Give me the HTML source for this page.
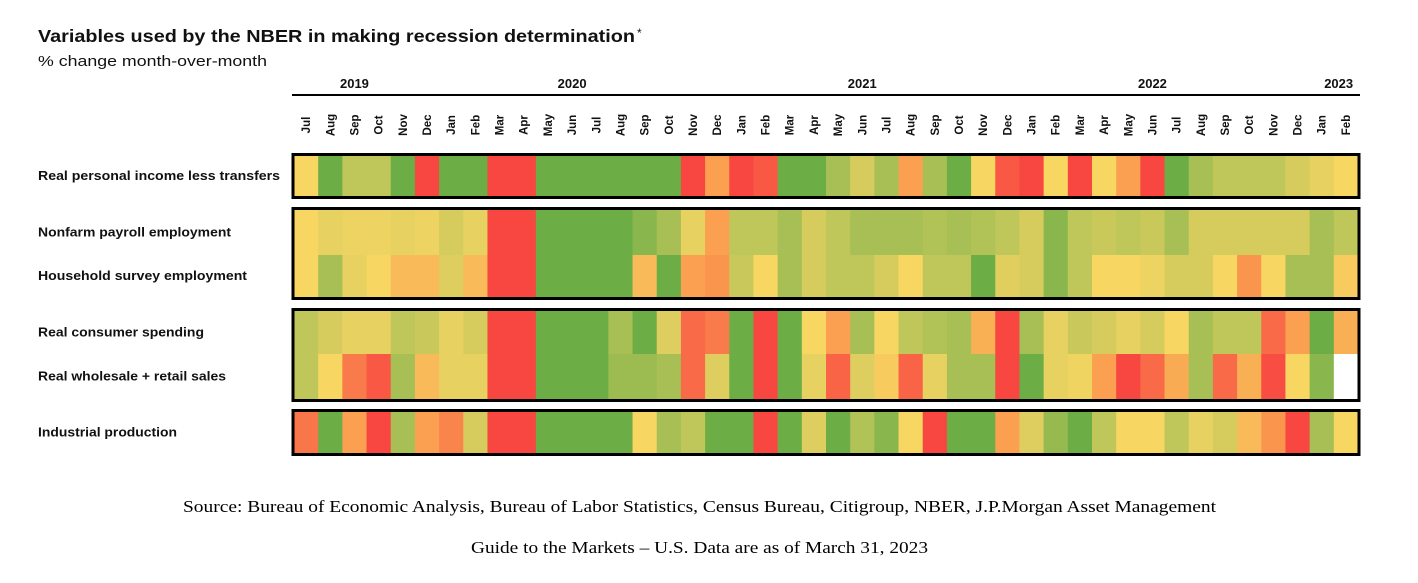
<!DOCTYPE html>
<html><head><meta charset="utf-8"><style>
body{margin:0;background:#fff;width:1418px;height:578px;overflow:hidden}
svg text{font-family:"Liberation Sans",Arial,sans-serif}
</style></head><body>
<svg id="chart" width="1418" height="578" xmlns="http://www.w3.org/2000/svg">
<text x="38" y="42" font-size="17.5" font-weight="bold" fill="#111" textLength="597" lengthAdjust="spacingAndGlyphs">Variables used by the NBER in making recession determination</text>
<text x="637" y="37" font-size="12" fill="#111">*</text>
<text x="38" y="66" font-size="14.5" fill="#111" textLength="229" lengthAdjust="spacingAndGlyphs">% change month-over-month</text>
<line x1="292" y1="95" x2="1360" y2="95" stroke="#000" stroke-width="2"/>
<g id="years"></g><g id="months"></g><g id="cells"></g><g id="frames"></g><g id="rowlabels"></g>
<text x="183" y="512" font-size="17" textLength="1033" lengthAdjust="spacingAndGlyphs" style="font-family:'Liberation Serif',serif">Source: Bureau of Economic Analysis, Bureau of Labor Statistics, Census Bureau, Citigroup, NBER, J.P.Morgan Asset Management</text>
<text x="471" y="553" font-size="17" textLength="457" lengthAdjust="spacingAndGlyphs" style="font-family:'Liberation Serif',serif">Guide to the Markets – U.S. Data are as of March 31, 2023</text>
</svg>
<script>
const months=["Jul","Aug","Sep","Oct","Nov","Dec","Jan","Feb","Mar","Apr","May","Jun","Jul","Aug","Sep","Oct","Nov","Dec","Jan","Feb","Mar","Apr","May","Jun","Jul","Aug","Sep","Oct","Nov","Dec","Jan","Feb","Mar","Apr","May","Jun","Jul","Aug","Sep","Oct","Nov","Dec","Jan","Feb"];
const years=["2019","2020","2021","2022","2023"];
const yearIdx=[2.5,11.5,23.5,35.5,43.2];
const rowNames=["Real personal income less transfers","Nonfarm payroll employment","Household survey employment","Real consumer spending","Real wholesale + retail sales","Industrial production"];
const rowLens=[242,193,209,166,188,139];
// score 0 (red, weak) .. 6 (green, strong); null = no data
const income=[3,6,4.5,4.5,6,0,6,6,0,0,6,6,6,6,6,6,0,2,0,0.5,6,6,5,4,5,2,5,6,3,0.5,0,3,0,3,2,0,6,5,4.5,4.5,4.5,4,3.5,3];
const payroll=[3,3.5,3.3,3.3,3.5,3.3,4,3.5,0,0,6,6,6,6,5.5,5,3.5,2,4.5,4.5,5,4,4.5,5,5,5,4.8,5,4.8,4.5,4,5.5,4.5,4.3,4.5,4.3,5,4,4,4,4,4,5,4.5];
const household=[3,5,3.5,3,2.5,2.5,3.8,2.5,0,0,6,6,6,6,2.5,6,2,1.8,4.3,3,5,4,4.5,4.5,4,3,4.5,4.5,6,3.7,4,5.5,4.5,3,3,3.3,4,4,3,1.8,3,5,5,2.8];
const spending=[4.5,4,3.5,3.5,4.5,4.3,3.5,4,0,0,6,6,6,5,6,3.8,1,1.3,6,0,6,3,2,5,3,4.5,4.8,5,2.3,0,5,3.5,4.3,4,3.5,4,3,5,4.5,4.5,1,2,6,2.3];
const sales=[4.5,3,1.3,0.5,5,2.5,3.5,3.5,0,0,6,6,6,5.2,5.2,5,1,3.8,6,0,6,3.5,0.8,3.8,2.8,0.8,3.5,5,5,0,6,3.5,3.2,2,0,1,2.2,5,1,2.3,0.2,3,5.5,null];
const industrial=[1.2,6,2,0,5,2,1.5,4,0,0,6,6,6,6,3,5,4.5,6,6,0,6,3.8,6,4.8,5.5,3,0,6,6,2,3.8,5.3,6,4.5,3,3,4.5,3.5,4,2.5,1.8,0,5,3];
const series=[income,payroll,household,spending,sales,industrial];
const stops=[[248,70,64],[249,106,72],[250,160,80],[247,214,98],[214,204,94],[168,191,85],[108,174,69]];
function color(v){if(v===null)return"#fff";const i=Math.min(5,Math.floor(v)),t=v-i,a=stops[i],b=stops[i+1];return`rgb(${a.map((c,k)=>Math.round(c+(b[k]-c)*t)).join(",")})`;}
const X0=294,X1=1358,cw=(X1-X0)/months.length;
const xs=i=>X0+i*cw;
const rowY=[[156,196],[210,255],[255,297],[311,354],[354,399],[412,453]];
const groups=[[154.5,197.5],[208.5,298.5],[309.5,400.5],[410.5,454.5]];
const NS="http://www.w3.org/2000/svg";
function mk(t,p,attrs){const e=document.createElementNS(NS,t);for(const k in attrs)e.setAttribute(k,attrs[k]);p.appendChild(e);return e;}
const gy=document.getElementById("years");
years.forEach((y,i)=>{const e=mk("text",gy,{x:xs(yearIdx[i]),y:88,"font-size":13,"font-weight":"bold","text-anchor":"middle",fill:"#111"});e.textContent=y;

});
const gm=document.getElementById("months");
months.forEach((m,i)=>{const cx=xs(i+0.5)+4;const e=mk("text",gm,{x:0,y:0,"font-size":11.5,"font-weight":"bold",fill:"#111","text-anchor":"middle",transform:`translate(${cx},125) rotate(-90)`});e.textContent=m;

});
const gc=document.getElementById("cells");
series.forEach((s,r)=>{s.forEach((v,i)=>{const e=mk("rect",gc,{x:xs(i),y:rowY[r][0],width:cw+0.6,height:rowY[r][1]-rowY[r][0]+0.5,fill:color(v)});

});});
const gf=document.getElementById("frames");
groups.forEach(g=>{const e=mk("rect",gf,{x:X0-1,y:g[0],width:X1-X0+2,height:g[1]-g[0],fill:"none",stroke:"#000","stroke-width":3});

});
const gr=document.getElementById("rowlabels");
rowNames.forEach((n,r)=>{const e=mk("text",gr,{x:38,y:(rowY[r][0]+rowY[r][1])/2+4,"font-size":12.5,"font-weight":"bold",fill:"#111",textLength:rowLens[r],lengthAdjust:"spacingAndGlyphs"});e.textContent=n;

});
</script>
</body></html>
